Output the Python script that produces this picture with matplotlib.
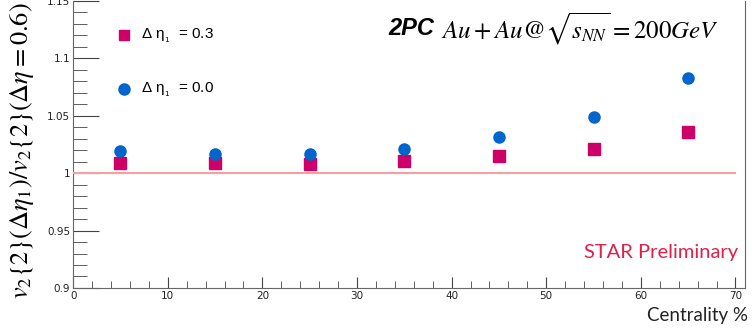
import matplotlib.pyplot as plt
import matplotlib.ticker as mticker

# centrality bins (%) and ratio values
centrality = [5, 15, 25, 35, 45, 55, 65]
ratio_eta03 = [1.0087, 1.0087, 1.0080, 1.0107, 1.0151, 1.0207, 1.0355]
ratio_eta00 = [1.0190, 1.0166, 1.0168, 1.0207, 1.0317, 1.0490, 1.0830]
err_eta03 = [0.0008, 0.0008, 0.0008, 0.0009, 0.0010, 0.0012, 0.0020]
err_eta00 = [0.0008, 0.0008, 0.0008, 0.0009, 0.0010, 0.0012, 0.0020]

blue = "#0066cc"
magenta = "#cc0066"

fig = plt.figure(figsize=(7.54, 3.31), dpi=100)
ax = fig.add_axes([0.097, 0.13, 0.891, 0.867])

ax.axhline(1.0, xmin=0, xmax=70 / 71, color="#f4a0a0", lw=1.5, zorder=3)

ax.errorbar(centrality, ratio_eta03, yerr=err_eta03, fmt="s", color=magenta,
            ms=8, elinewidth=1, capsize=0, zorder=4)
ax.errorbar(centrality, ratio_eta00, yerr=err_eta00, fmt="o", color=blue,
            ms=8, elinewidth=1, capsize=0, zorder=4)

ax.set_xlim(0, 71)
ax.set_ylim(0.9, 1.15)
ax.xaxis.set_major_locator(mticker.MultipleLocator(10))
ax.xaxis.set_minor_locator(mticker.MultipleLocator(2))
ax.yaxis.set_major_locator(mticker.MultipleLocator(0.05))
ax.yaxis.set_minor_locator(mticker.MultipleLocator(0.01))
ax.yaxis.set_major_formatter(mticker.FuncFormatter(lambda v, p: f"{v:g}"))
ax.tick_params(which="both", direction="in", labelsize=7.5, color="#444444",
               labelcolor="#222222", top=False, right=False)
ax.tick_params(axis="x", which="major", length=8, pad=2)
ax.tick_params(axis="x", which="minor", length=5)
ax.tick_params(axis="y", which="major", length=19, pad=2)
ax.tick_params(axis="y", which="minor", length=10)
for s in ax.spines.values():
    s.set_color("#666666")
    s.set_linewidth(0.8)
ax.spines["top"].set_visible(False)

ax.set_ylabel(r"$v_2\{2\}(\Delta\eta_1)/v_2\{2\}(\Delta\eta=0.6)$",
              fontsize=19, math_fontfamily="stix")
ax.yaxis.set_label_coords(-0.055, 0.48)
fig.text(0.992, 0.02, "Centrality %", ha="right", va="bottom", fontsize=13.5,
         family="Lato", color="#222222")

# legend drawn as markers + text
ax.plot([5.4], [1.120], "s", color=magenta, ms=7)
ax.plot([5.4], [1.073], "o", color=blue, ms=8)
ax.text(7.2, 1.120, r"Δ η$_{_1}$  = 0.3", va="center", fontsize=11,
        family="Liberation Sans")
ax.text(7.2, 1.073, r"Δ η$_{_1}$  = 0.0", va="center", fontsize=11,
        family="Liberation Sans")

ax.text(33.3, 1.126, "2PC", fontsize=17, fontweight="bold", style="italic",
        family="Liberation Sans", va="center")
ax.text(38.9, 1.126, r"$Au + Au@\sqrt{s_{NN}} = 200GeV$", fontsize=18,
        math_fontfamily="stix", va="center")

ax.text(70.3, 0.931, "STAR Preliminary", ha="right", va="center", fontsize=14.5,
        color="#e0204a", family="Lato")

fig.savefig("out.png", dpi=100)
